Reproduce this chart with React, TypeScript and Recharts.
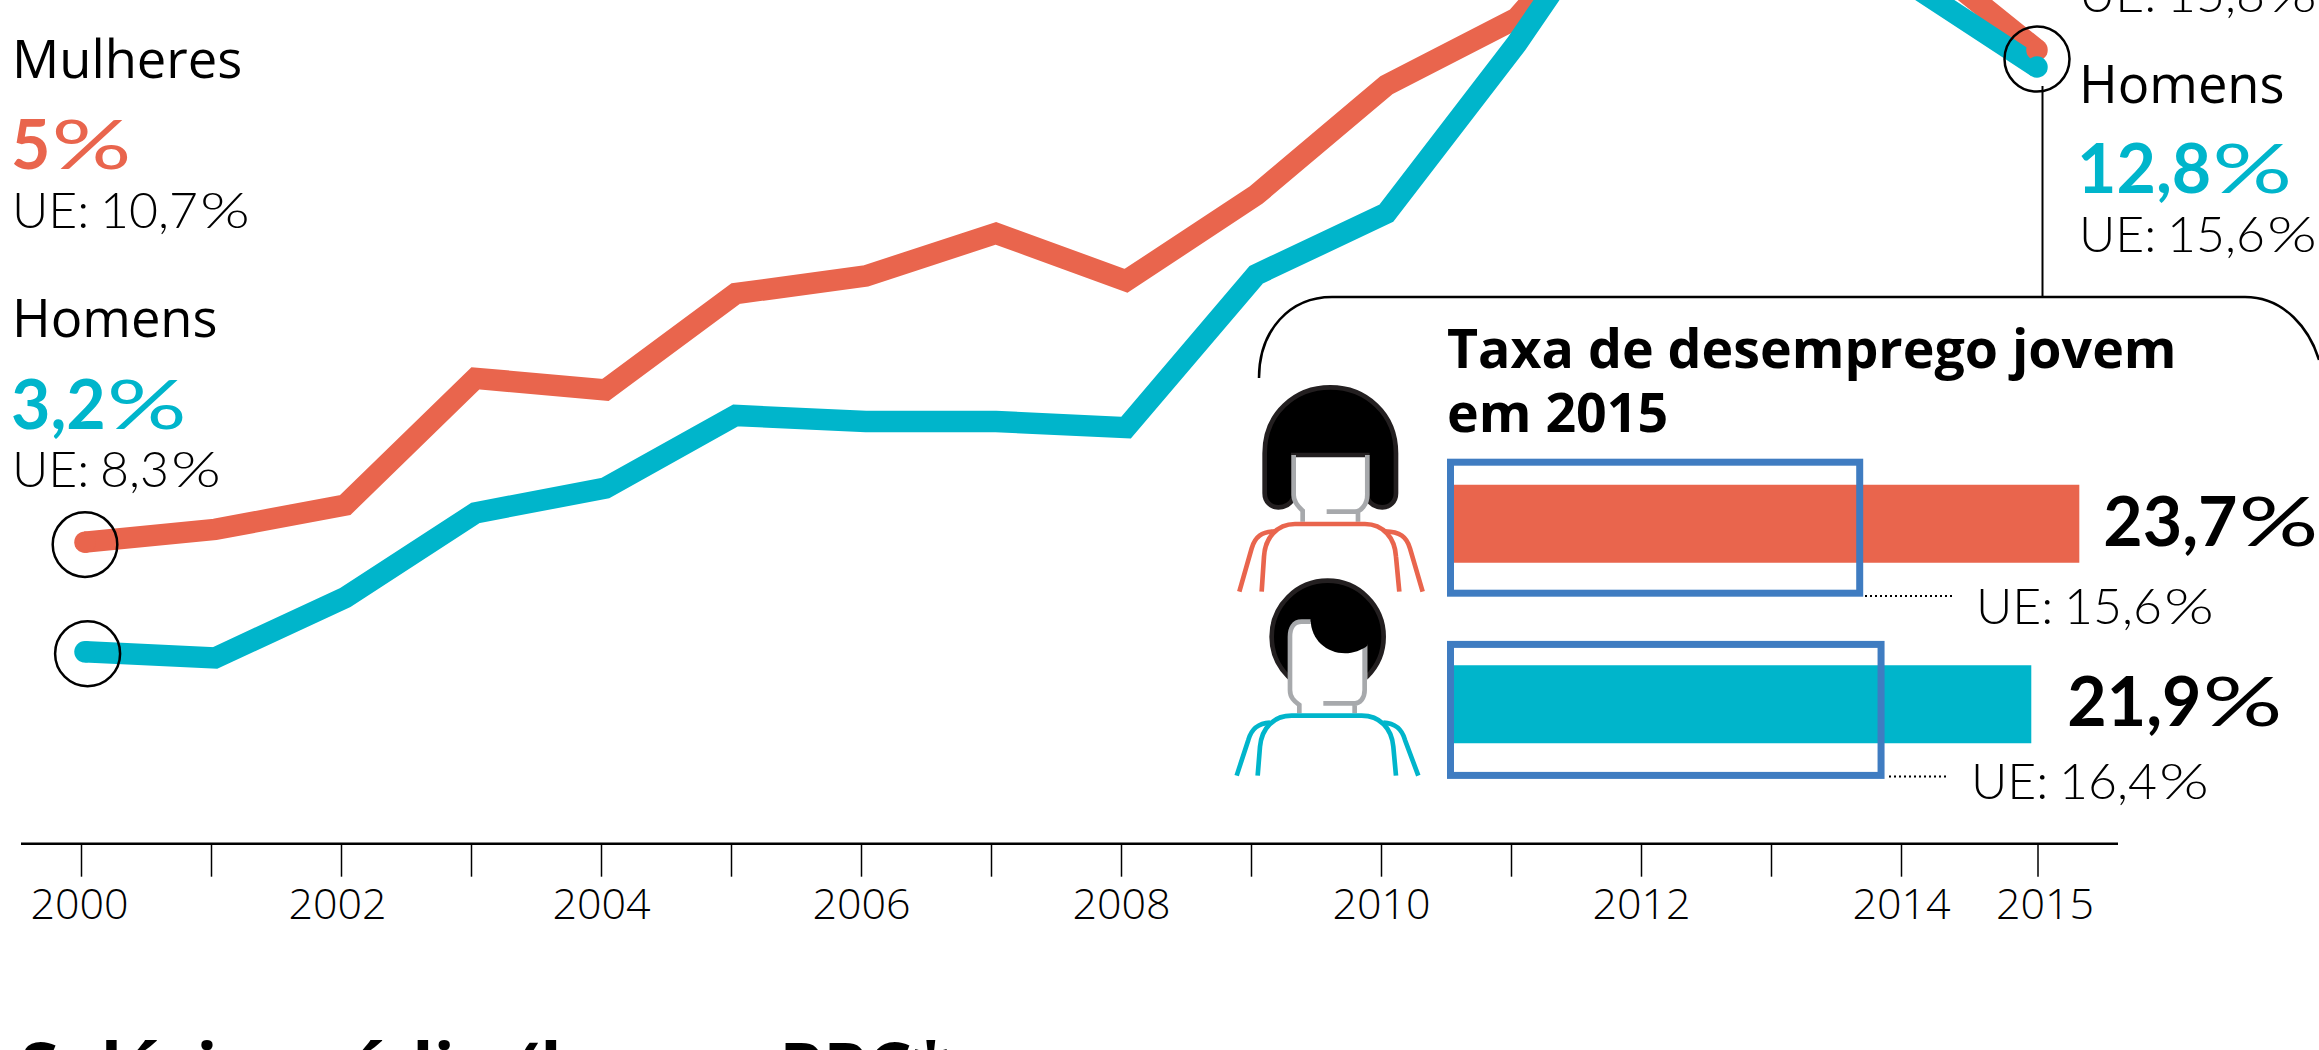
import React from "react";
import { ComposedChart, Line, XAxis, YAxis, ReferenceDot, Bar, LabelList, Cell } from "recharts";

const years = [2000,2001,2002,2003,2004,2005,2006,2007,2008,2009,2010,2011,2012,2013,2014,2015];
const mulheres = [5.0,5.21,5.61,7.69,7.5,9.08,9.37,10.07,9.29,10.7,12.5,13.6,16.0,17.5,14.8,13.08];
const homens = [3.2,3.1,4.09,5.48,5.89,7.08,6.98,6.98,6.88,9.39,10.4,13.18,16.3,17.0,14.2,12.8];
const tickValues = [2000,2001,2002,2003,2004,2005,2006,2007,2008,2009,2010,2011,2012,2013,2014,2015.05];
const labelledYears = [2000,2002,2004,2006,2008,2010,2012,2014,2015];

const groups = ["Mulheres", "Homens"];
const jovem = [23.7, 21.9];
const ue2015 = [15.6, 16.4];
const jovemLabels = ["23,7", "21,9"];
const jovemGaps = [24, 36];

const CORAL = "#e9654d";
const TEAL = "#00b5cb";
const BLUE = "#3f7cc1";
const GRAY = "#a7a9ac";
const W = 2319;
const H = 1050;
const LINE_W = 21.5;

const lineData = years.map((y, i) => ({ y, mulheres: mulheres[i], homens: homens[i] }));
const barData = groups.map((g, i) => ({ g, jovem: jovem[i], ue: ue2015[i], label: jovemLabels[i] }));

const SANS = "'Open Sans'";
const NUM = "Lato";

function YearTick(props: any) {
  const { x, payload } = props;
  const yr = Math.floor(payload.value);
  if (!labelledYears.includes(yr)) return <g />;
  const dx = yr === 2015 ? 7 : yr === 2000 ? -2 : yr === 2002 ? -4 : 0;
  return (
    <text x={x + dx} y={919} textAnchor="middle" fontFamily={SANS} fontWeight={300} fontSize={43} fill="#000">
      {yr}
    </text>
  );
}

function Outline(props: any) {
  const { x, y, width, height } = props;
  return <rect x={x + 3.5} y={y + 3.5} width={width - 7} height={height - 7} fill="none" stroke={BLUE} strokeWidth={7} />;
}

// round line ends: a disc on the first and last point of a series
function capDot(color: string) {
  return (p: any) => {
    const isEnd = p.index === 0 || p.index === years.length - 1;
    if (!isEnd) return <g key={p.index} />;
    return <circle key={p.index} cx={p.cx} cy={p.cy} r={LINE_W / 2} fill={color} stroke="none" />;
  };
}

function T(p: any) {
  const { children, ...rest } = p;
  return <text fill="#000" fontFamily={SANS} fontSize={52.5} {...rest}>{children}</text>;
}

// big coloured figure: bold digits followed by a wide, thin percent sign
function Big({ x, y, fill, v }: any) {
  return (
    <text x={x} y={y} fill={fill} fontFamily={NUM} fontWeight={700} fontSize={68}>
      {v}
      <tspan dx={1} fontWeight={400} textLength={80} lengthAdjust="spacingAndGlyphs">%</tspan>
    </text>
  );
}

// light "UE: n%" annotation
function Ue({ x, y, v }: any) {
  return (
    <text x={x} y={y} fill="#000" fontFamily={NUM} fontWeight={300} fontSize={50} wordSpacing={-3}>
      {"UE: " + v}
      <tspan dx={2} textLength={50} lengthAdjust="spacingAndGlyphs">%</tspan>
    </text>
  );
}

function Woman() {
  return (
    <g transform="translate(1220,370) scale(0.3333)" fill="none" strokeWidth={14}>
      <path d="M134,370 L134,250 C134,130 225,52 331,52 C437,52 528,130 528,250 L528,370 C528,395 510,412 487,412 C465,412 450,400 442,385 L442,255 L220,255 L220,385 C212,400 197,412 175,412 C152,412 134,395 134,370 Z" fill="#000" stroke="#231f20" />
      <path d="M221,255 L221,375 C221,395 232,408 248,422 L248,455" stroke={GRAY} />
      <path d="M442,255 L442,375 C442,400 425,425 405,425 L320,425 M414,425 L414,455" stroke={GRAY} />
      <path d="M125,665 L132,560 C135,505 170,462 225,462 L435,462 C490,462 525,505 528,560 L538,665" stroke={CORAL} />
      <path d="M58,665 L95,535 C105,500 125,485 165,484 M608,665 L570,535 C560,500 540,485 495,484" stroke={CORAL} />
    </g>
  );
}

function Man() {
  return (
    <g transform="translate(1220,370) scale(0.3333)" fill="none" strokeWidth={14}>
      <circle cx={323} cy={800} r={168} fill="#000" stroke="#231f20" />
      <path d="M210,800 C210,775 220,755 245,755 L442,755 L442,1030 L238,1030 L238,1005 C225,995 210,985 210,960 Z" fill="#fff" stroke="none" />
      <path d="M272,755 L245,755 C220,755 210,775 210,800 L210,960 C210,985 225,995 238,1005 L238,1030" stroke={GRAY} />
      <path d="M434,830 L434,960 C434,985 420,1000 405,1000 L310,1000 M404,1000 L404,1030" stroke={GRAY} />
      <path d="M272,748 C272,810 320,850 375,850 C400,850 425,840 442,828 L470,748 Z" fill="#000" />
      <path d="M113,1217 L120,1130 C125,1075 160,1037 215,1037 L425,1037 C480,1037 515,1075 520,1130 L528,1217" stroke={TEAL} />
      <path d="M50,1217 L85,1110 C95,1075 115,1060 150,1058 M595,1217 L555,1110 C545,1075 525,1060 490,1058" stroke={TEAL} />
    </g>
  );
}

export default function App() {
  return (
    <div style={{ position: "absolute", left: 0, top: 0, width: W, height: H, overflow: "hidden", background: "#fff" }}>
      <div style={{ position: "absolute", left: 0, top: 0 }}>
        <ComposedChart width={W} height={H} data={lineData} margin={{ top: 0, left: 21, right: 201, bottom: 0 }}>
          <XAxis dataKey="y" type="number" domain={[2000, 2015]} padding={{ left: 64, right: 81 }} hide xAxisId="data" height={0} />
          <XAxis
            xAxisId="ticks"
            dataKey="y"
            type="number"
            domain={[2000, 2015]}
            padding={{ left: 60.5, right: 86.5 }}
            ticks={tickValues}
            interval={0}
            tick={YearTick}
            tickSize={33}
            height={206.3}
            allowDataOverflow
            stroke="#000"
            axisLine={{ stroke: "#000", strokeWidth: 2.5 }}
            tickLine={{ stroke: "#000", strokeWidth: 1.5 }}
          />
          <YAxis hide domain={[0.05, 13.9]} allowDataOverflow />
          <Line xAxisId="data" dataKey="mulheres" stroke={CORAL} strokeWidth={LINE_W} dot={capDot(CORAL)} activeDot={false} isAnimationActive={false} />
          <Line xAxisId="data" dataKey="homens" stroke={TEAL} strokeWidth={LINE_W} dot={capDot(TEAL)} activeDot={false} isAnimationActive={false} />
          <ReferenceDot xAxisId="data" x={2000} y={4.96} r={32.3} fill="none" stroke="#000" strokeWidth={2.5} />
          <ReferenceDot xAxisId="data" x={2000.02} y={3.17} r={32.5} fill="none" stroke="#000" strokeWidth={2.5} />
          <ReferenceDot xAxisId="data" x={2015} y={12.93} r={32.5} fill="none" stroke="#000" strokeWidth={2.5} />
        </ComposedChart>
      </div>

      <svg width={W} height={H} style={{ position: "absolute", left: 0, top: 0 }}>
        <path d="M2042.5,86 L2042.5,297" stroke="#000" strokeWidth={2} fill="none" />
        <path d="M1259,378 C1259,330 1290,297 1332,297 L2245,297 C2285,297 2310,330 2319,360" stroke="#000" strokeWidth={2.5} fill="none" />
        <Woman />
        <Man />

        <T x={12} y={78}>Mulheres</T>
        <Big x={11} y={169} fill={CORAL} v="5" />
        <Ue x={12} y={228} v="10,7" />
        <T x={12} y={337}>Homens</T>
        <Big x={11} y={428.6} fill={TEAL} v="3,2" />
        <Ue x={12} y={486.6} v="8,3" />

        <Ue x={2079} y={11.7} v="15,8" />
        <T x={2079} y={103}>Homens</T>
        <Big x={2077} y={193} fill={TEAL} v="12,8" />
        <Ue x={2079} y={251.7} v="15,6" />

        <T x={1447} y={368} fontWeight={700} fontSize={53.7}>Taxa de desemprego jovem</T>
        <T x={1447} y={431.7} fontWeight={700} fontSize={53.7}>em 2015</T>

        <path d="M1865,596 L1953,596 M1889,776.5 L1946,776.5" stroke="#000" strokeWidth={2} strokeDasharray="2 3" fill="none" />
        <Ue x={1976} y={624} v="15,6" />
        <Ue x={1971} y={799} v="16,4" />

        <T x={20} y={1093} fontWeight={700} fontSize={70}>Salário médio (base = PPC*</T>
      </svg>

      <div style={{ position: "absolute", left: 0, top: 0 }}>
        <ComposedChart layout="vertical" width={W} height={H} data={barData} margin={{ top: 420, bottom: 230, left: 1447, right: 71.6 }} barGap={0}>
          <XAxis type="number" domain={[0, 30]} hide xAxisId={0} height={0} />
          <YAxis yAxisId="bar" type="category" dataKey="g" hide width={0} padding={{ top: 13.65, bottom: 24.95 } as any} />
          <YAxis yAxisId="ue" type="category" dataKey="g" hide width={0} padding={{ top: 16.7, bottom: 18.9 } as any} />
          <Bar yAxisId="bar" xAxisId={0} dataKey="jovem" barSize={78} isAnimationActive={false}>
            <Cell fill={CORAL} />
            <Cell fill={TEAL} />
            <LabelList
              dataKey="label"
              content={(p: any) => (
                <Big x={p.x + p.width + jovemGaps[p.index]} y={p.y + p.height / 2 + 22} fill="#000" v={p.value} />
              )}
            />
          </Bar>
          <Bar yAxisId="ue" xAxisId={0} dataKey="ue" barSize={138} shape={Outline} isAnimationActive={false} />
        </ComposedChart>
      </div>
    </div>
  );
}
